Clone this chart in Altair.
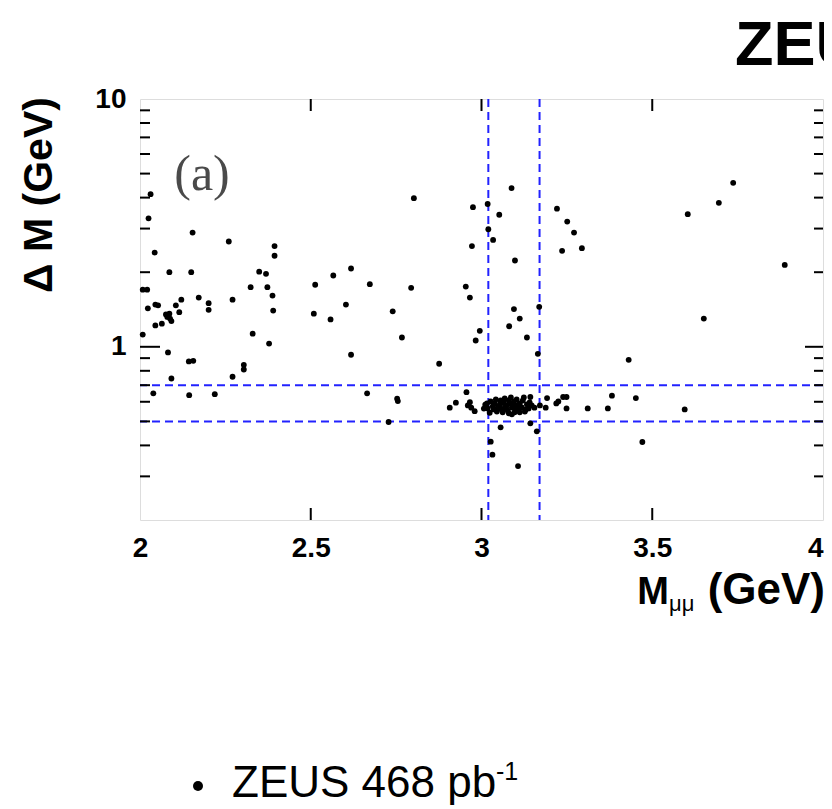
import altair as alt
import pandas as pd

# ---- data ----
mass = [
    2.031, 2.025, 2.043, 2.154, 2.260, 2.394, 2.394, 2.086, 2.150, 2.349,
    2.369, 2.324, 2.373, 2.008, 2.021, 2.023, 2.045, 2.053, 2.045, 2.064,
    2.076, 2.086, 2.080, 2.088, 2.092, 2.105, 2.121, 2.115, 2.172, 2.201,
    2.201, 2.271, 2.388, 2.390, 2.330, 2.378, 2.008, 2.082, 2.143, 2.156,
    2.092, 2.039, 2.144, 2.219, 2.271, 2.304, 2.304,
    2.802, 2.975, 2.972, 2.513, 2.566, 2.618, 2.673, 2.794, 2.954, 2.966,
    2.509, 2.558, 2.603, 2.740, 2.767, 2.995, 2.983, 2.618, 2.876, 2.665,
    2.753, 2.755, 2.728, 2.907, 2.925, 2.956, 2.966, 2.960, 2.970, 2.980,
    3.088, 3.018, 3.052, 3.020, 3.034, 3.098, 3.221, 3.251, 3.271, 3.236,
    3.294, 3.095, 3.112, 3.081, 3.169, 3.133, 3.165, 3.431,
    3.143, 3.192, 3.219, 3.225, 3.239, 3.249, 3.249, 3.311, 3.370, 3.382, 3.452,
    3.188, 3.155, 3.171, 3.056, 3.143, 3.162, 3.027, 3.032, 3.107,
    3.604, 3.695, 3.737, 3.888, 3.651, 3.595, 3.471, 3.011, 3.007, 3.024,
]
delta_m = [
    4.13, 3.30, 2.40, 2.89, 2.66, 2.55, 2.33, 2.00, 2.00, 2.01,
    1.97, 1.74, 1.74, 1.70, 1.70, 1.43, 1.48, 1.47, 1.22, 1.24,
    1.35, 1.36, 1.32, 1.30, 1.27, 1.47, 1.55, 1.38, 1.58, 1.50,
    1.41, 1.55, 1.61, 1.40, 1.13, 1.03, 1.12, 0.949, 0.873, 0.878,
    0.745, 0.649, 0.638, 0.644, 0.757, 0.846, 0.810,
    3.98, 3.66, 2.55, 1.78, 1.94, 2.07, 1.79, 1.73, 1.75, 1.58,
    1.36, 1.29, 1.48, 1.39, 1.09, 1.16, 1.06, 0.929, 0.854, 0.649,
    0.617, 0.604, 0.497, 0.568, 0.595, 0.656, 0.598, 0.580, 0.568, 0.550,
    4.37, 3.77, 3.41, 2.98, 2.70, 2.23, 3.61, 3.20, 2.89, 2.44,
    2.50, 1.42, 1.30, 1.21, 1.45, 1.09, 0.937, 0.886,
    0.627, 0.621, 0.591, 0.602, 0.627, 0.627, 0.564, 0.564, 0.564, 0.635, 0.621,
    0.568, 0.568, 0.580, 0.473, 0.491, 0.456, 0.414, 0.367, 0.330,
    3.43, 3.81, 4.59, 2.14, 1.30, 0.559, 0.413, 0.584, 0.563, 0.542,
]
# dense J/psi cluster
cluster_mass = [
    3.039, 3.048, 3.054, 3.059, 3.065, 3.071, 3.077, 3.083, 3.089, 3.095,
    3.100, 3.106, 3.112, 3.118, 3.068, 3.086, 3.103, 3.121, 3.133, 3.138,
    3.127, 3.097, 3.080, 3.062, 3.045, 3.033, 3.027, 3.016, 3.092, 3.074,
    3.109, 3.056, 3.124, 3.141, 3.042, 3.089, 3.112, 3.036, 3.018, 3.147,
    3.080, 3.071, 3.097, 3.054, 3.130,
]
cluster_dm = [
    0.591, 0.569, 0.586, 0.559, 0.596, 0.575, 0.553, 0.591, 0.569, 0.602,
    0.580, 0.559, 0.591, 0.569, 0.619, 0.625, 0.613, 0.607, 0.586, 0.564,
    0.548, 0.544, 0.539, 0.544, 0.548, 0.575, 0.602, 0.591, 0.586, 0.580,
    0.575, 0.607, 0.625, 0.596, 0.613, 0.534, 0.544, 0.559, 0.564, 0.580,
    0.607, 0.564, 0.564, 0.575, 0.559,
]
cut_mass = [3.02, 3.17]
cut_dm = [0.5, 0.7]
x_labels = [2, 2.5, 3, 3.5, 4]
x_major_ticks = [2.5, 3, 3.5]
y_labels = [1, 10]
y_major_ticks = [1]
y_minor_ticks = [0.3, 0.4, 0.5, 0.6, 0.7, 0.8, 0.9, 2, 3, 4, 5, 6, 7, 8, 9]

W, H = 683, 421
FONT = "Liberation Sans"
BLUE = "#2222ff"

pts_df = pd.DataFrame({"m": mass + cluster_mass, "dm": delta_m + cluster_dm})

xs = alt.Scale(domain=[2, 4], nice=False, zero=False)
ys = alt.Scale(type="log", domain=[0.2, 10], nice=False)

x_axis = alt.Axis(values=x_labels, format=".1~f", labelFont=FONT, labelFontSize=28,
                  labelFontWeight="bold", labelColor="black", ticks=False, domain=False,
                  grid=False, title=None, labelPadding=14, labelFlush=False,
                  labelOverlap=False,
                  labelAlign=alt.ExprRef(expr="datum.value >= 4 ? 'right' : 'center'"))
y_axis = alt.Axis(values=y_labels, format="~g", labelFont=FONT, labelFontSize=28,
                  labelFontWeight="bold", labelColor="black", ticks=False, domain=False,
                  grid=False, title=None, labelPadding=14, labelOverlap=False)

points = alt.Chart(pts_df).mark_circle(size=34, color="black", opacity=1).encode(
    x=alt.X("m:Q", scale=xs, axis=x_axis),
    y=alt.Y("dm:Q", scale=ys, axis=y_axis),
)

hlines = alt.Chart(pd.DataFrame({"v": cut_dm})).mark_rule(
    color=BLUE, strokeDash=[8, 5], strokeWidth=2).encode(y=alt.Y("v:Q", scale=ys))
vlines = alt.Chart(pd.DataFrame({"v": cut_mass})).mark_rule(
    color=BLUE, strokeDash=[8, 5], strokeWidth=2).encode(x=alt.X("v:Q", scale=xs))

ymaj = pd.DataFrame({"v": y_major_ticks})
ymin = pd.DataFrame({"v": y_minor_ticks})
xmaj = pd.DataFrame({"v": x_major_ticks})


def ytick(df, x0, x1):
    return alt.Chart(df).mark_rule(color="black", strokeWidth=2).encode(
        y=alt.Y("v:Q", scale=ys), x=alt.value(x0), x2=alt.value(x1))


def xtick(df, y0, y1):
    return alt.Chart(df).mark_rule(color="black", strokeWidth=2).encode(
        x=alt.X("v:Q", scale=xs), y=alt.value(y0), y2=alt.value(y1))


ticks = [
    ytick(ymaj, 0, 20), ytick(ymin, 0, 10),
    ytick(ymaj, W - 18, W), ytick(ymin, W - 9, W),
    xtick(xmaj, H - 12, H), xtick(xmaj, 0, 12),
]


def label(text, x, y, size, weight="normal", align="left", font=FONT,
          color="black", angle=0, baseline="alphabetic"):
    return alt.Chart(pd.DataFrame({"t": [text]})).mark_text(
        font=font, fontSize=size, fontWeight=weight, align=align, color=color,
        angle=angle, baseline=baseline).encode(
        text="t:N", x=alt.value(x), y=alt.value(y))


texts = [
    label("ZEUS", 595, -34, 63, weight="bold"),
    label("(a)", 62, 91, 50, align="center", font="Liberation Serif", color="#4a4a4a"),
    label("Δ M (GeV)", -100, 96, 41, weight="bold", align="center", angle=270,
          baseline="middle"),
    label("(GeV)", 685, 505, 44, weight="bold", align="right"),
    label("μμ", 529, 512, 22, align="left"),
    label("M", 529, 505, 38, weight="bold", align="right"),
    label("ZEUS 468 pb", 92, 698, 44, align="left"),
    label("-1", 356, 681, 25, align="left"),
]

bullet = alt.Chart(pd.DataFrame({"t": ["ZEUS 468 pb-1"]})).mark_circle(
    size=100, color="black", opacity=1).encode(x=alt.value(58), y=alt.value(687))

chart = alt.layer(hlines, vlines, *ticks, points, *texts, bullet).properties(
    width=W, height=H,
    padding={"left": 132, "top": 91, "right": 1, "bottom": 285},
    autosize=alt.AutoSizeParams(type="none"),
).configure_view(stroke="black", strokeWidth=3).configure(background="white")

chart.save("out.html", embed_options={"renderer": "svg", "actions": False})
